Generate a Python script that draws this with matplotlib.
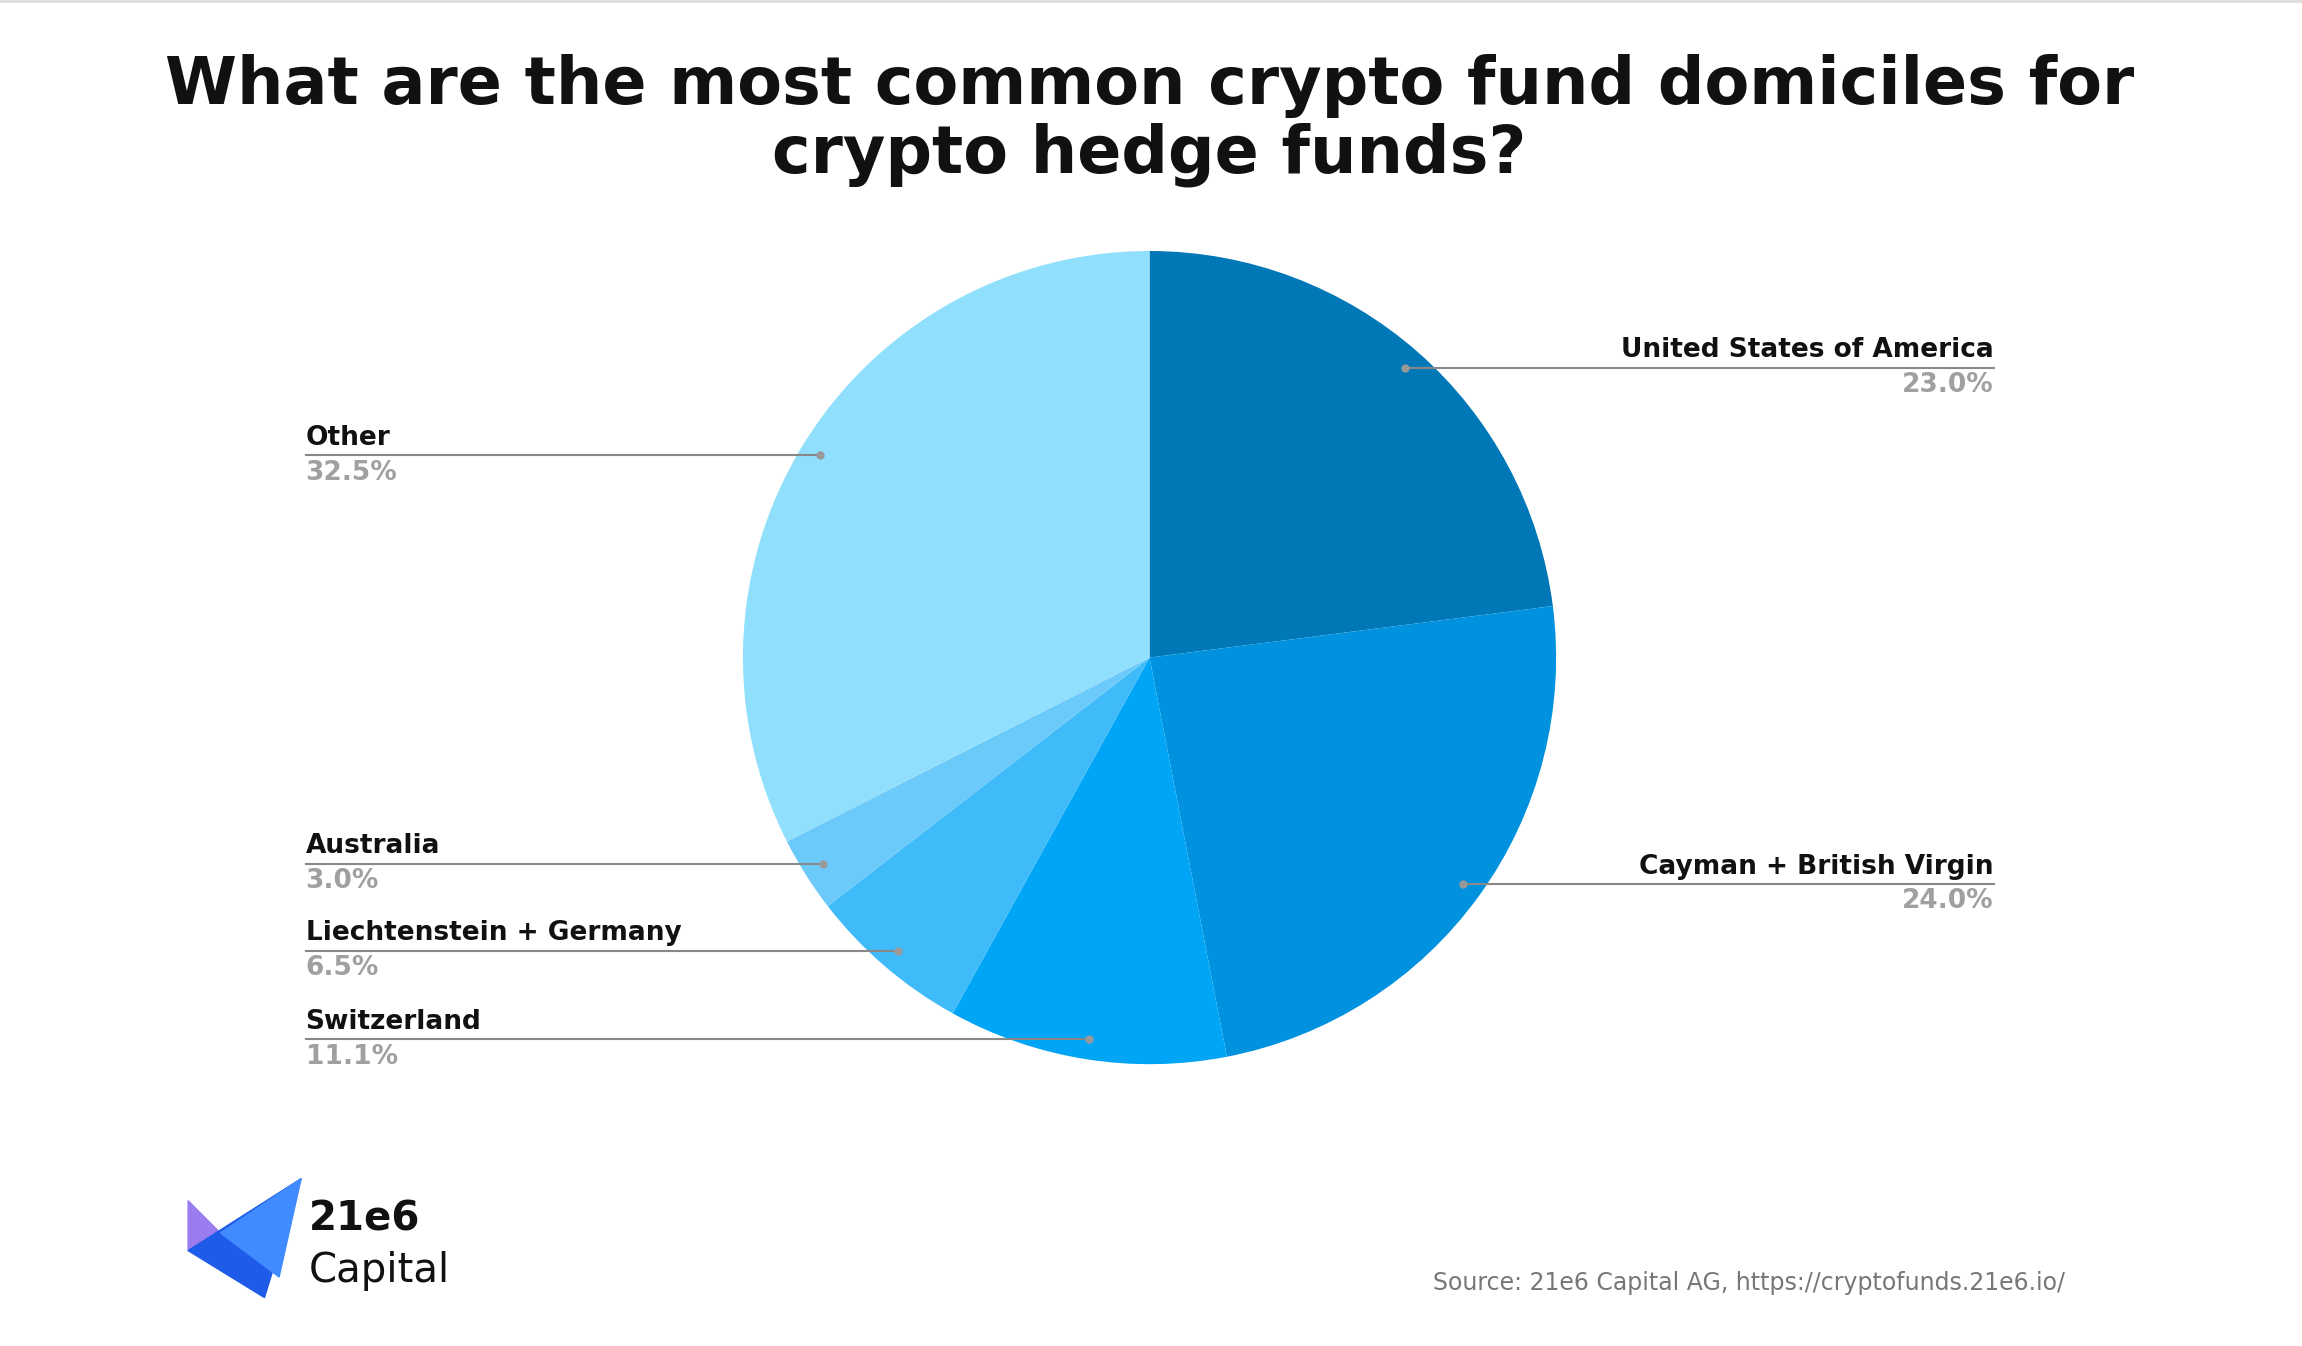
import numpy as np
import matplotlib
matplotlib.use("Agg")
import matplotlib.pyplot as plt
from matplotlib.patches import Polygon

labels = ["United States of America", "Cayman + British Virgin", "Switzerland",
          "Liechtenstein + Germany", "Australia", "Other"]
values = [23.0, 24.0, 11.1, 6.5, 3.0, 32.5]
colors = ["#0077B6", "#0091DF", "#00A5F5", "#40BBF9", "#6CCAFB", "#90DFFC"]

W, H = 1568, 917
fig = plt.figure(figsize=(23.02, 13.46), dpi=100)
ax = fig.add_axes([0, 0, 1, 1])
cx, cy, R = 783, H - 448, 277
wedges, _ = ax.pie(values, colors=colors, startangle=90, counterclock=False,
                   center=(cx, cy), radius=R, wedgeprops=dict(linewidth=0))
ax.set_xlim(0, W); ax.set_ylim(0, H); ax.set_aspect("equal"); ax.axis("off")

total = sum(values)
cum = 0
for lab, v in zip(labels, values):
    mid = np.deg2rad(90 - (cum + v / 2) / total * 360)
    cum += v
    dx, dy = cx + 0.95 * R * np.cos(mid), cy + 0.95 * R * np.sin(mid)
    right = dx > cx
    xend = 1358 if right else 208
    ax.plot([dx, xend], [dy, dy], color="#888888", lw=1.5)
    ax.plot(dx, dy, "o", color="#999999", ms=5)
    ha = "right" if right else "left"
    ax.text(xend, dy + 3, lab, ha=ha, va="bottom", fontsize=19, fontweight="bold", color="#111111")
    ax.text(xend, dy - 3, f"{v:.1f}%", ha=ha, va="top", fontsize=19, fontweight="bold", color="#A0A0A0")

ax.text(783, H - 82, "What are the most common crypto fund domiciles for\ncrypto hedge funds?",
        ha="center", va="center", fontsize=47, fontweight="bold", color="#111111", linespacing=1.1)

# logo
ax.add_patch(Polygon([[128, H-818], [150, H-840], [128, H-852]], closed=True, color="#9A7CF0"))
ax.add_patch(Polygon([[128, H-852], [205, H-803], [180, H-884]], closed=True, color="#1E5BE8"))
ax.add_patch(Polygon([[150, H-840], [205, H-803], [190, H-870]], closed=True, color="#3F8BFF"))
ax.text(210, H-831, "21e6", ha="left", va="center", fontsize=29, fontweight="bold", color="#111111")
ax.text(210, H-866, "Capital", ha="left", va="center", fontsize=29, color="#111111")

ax.text(1407, H-874, "Source: 21e6 Capital AG, https://cryptofunds.21e6.io/", ha="right", va="center",
        fontsize=17, color="#777777")
ax.plot([0, W], [H-1, H-1], color="#DDDDDD", lw=2)

fig.savefig("out.png", dpi=100)
